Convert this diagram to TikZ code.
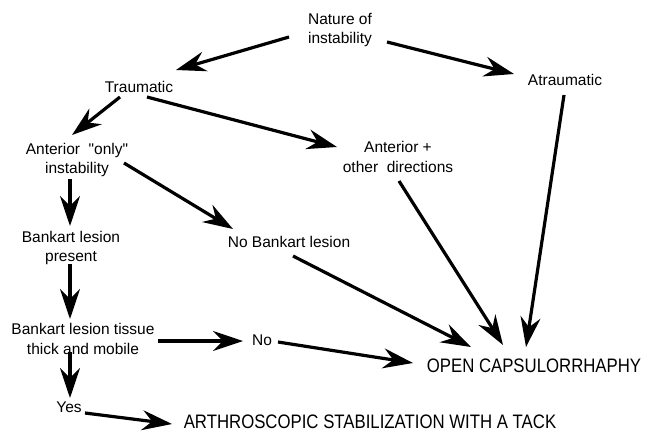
\documentclass[tikz,border=0pt]{standalone}
\usepackage{fontspec}
\setmainfont{Liberation Sans}[Ligatures=TeXOff]
\newfontfamily\bigfont[FakeStretch=0.86]{Liberation Sans}
\usetikzlibrary{arrows.meta}
\tikzset{
  lbl/.style={inner sep=0pt, align=center, font=\fontsize{15.5}{19.5}\selectfont},
  biglbl/.style={inner sep=0pt, font=\bigfont\fontsize{19.5}{22}\selectfont},
  arr/.style={line width=3.2pt, -{Stealth[length=30pt,width=20pt,inset=10pt]}}
}
\begin{document}
\begin{tikzpicture}[x=1pt,y=-1pt]
\useasboundingbox (0,0) rectangle (655,432);
\node[lbl] (nat) at (340,30) {Nature of\\instability};
\node[lbl] (trau) at (139,87) {Traumatic};
\node[lbl] (atr) at (565,80) {Atraumatic};
\node[lbl] (ao) at (77,160) {Anterior\ \ "only"\\instability};
\node[lbl] (aod) at (398,157) {Anterior +\\other\ \ directions};
\node[lbl] (bp) at (71,248) {Bankart lesion\\present};
\node[lbl] (nb) at (289,242) {No Bankart lesion};
\node[lbl] (bt) at (83,339) {Bankart lesion tissue\\thick and mobile};
\node[lbl] (no) at (262,340) {No};
\node[biglbl] (open) at (534,366) {OPEN CAPSULORRHAPHY};
\node[lbl] (yes) at (69,407) {Yes};
\node[biglbl] (arth) at (370,422) {ARTHROSCOPIC STABILIZATION WITH A TACK};

\draw[arr] ([shift={(-51,7)}]nat.center) -- ([shift={(37,-17)}]trau.center);
\draw[arr] ([shift={(47,12)}]nat.center) -- ([shift={(-51,-6)}]atr.center);
\draw[arr] ([shift={(-19,10)}]trau.center) -- ([shift={(-5,-25)}]ao.center);
\draw[arr] ([shift={(8,10)}]trau.center) -- ([shift={(-61,-10)}]aod.center);
\draw[arr] ([shift={(-7,19)}]ao.center) -- ([shift={(-1,-22)}]bp.center);
\draw[arr] ([shift={(47,3)}]ao.center) -- ([shift={(-56,-13)}]nb.center);
\draw[arr] ([shift={(-1,16)}]bp.center) -- ([shift={(-13,-20)}]bt.center);
\draw[arr] ([shift={(75,2)}]bt.center) -- ([shift={(-19,1)}]no.center);
\draw[arr] ([shift={(-13,13)}]bt.center) -- ([shift={(1,-9)}]yes.center);
\draw[arr] ([shift={(16,6)}]yes.center) -- ([shift={(-198,2)}]arth.center);
\draw[arr] ([shift={(16,2)}]no.center) -- ([shift={(-121,-3)}]open.center);
\draw[arr] ([shift={(4,14)}]nb.center) -- ([shift={(-63,-19)}]open.center);
\draw[arr] ([shift={(1,24)}]aod.center) -- ([shift={(-31,-21)}]open.center);
\draw[arr] ([shift={(-1,15)}]atr.center) -- ([shift={(-8,-19)}]open.center);
\end{tikzpicture}
\end{document}
